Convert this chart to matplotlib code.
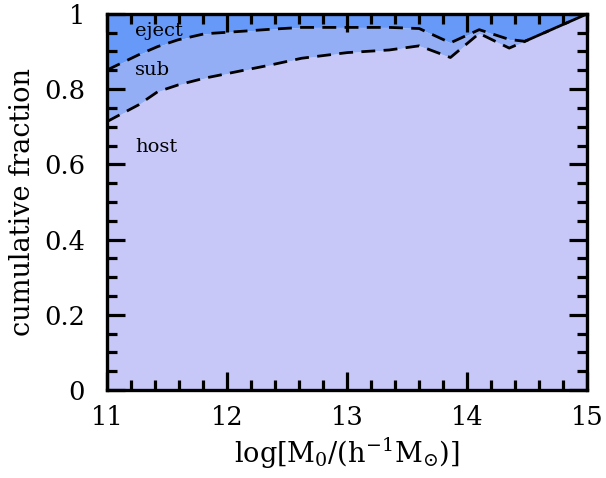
import numpy as np
import matplotlib
matplotlib.use("Agg")
import matplotlib.pyplot as plt
from matplotlib.ticker import MultipleLocator

plt.rcParams['font.family'] = 'DejaVu Serif'
plt.rcParams['mathtext.fontset'] = 'dejavuserif'

# cumulative fractions vs log halo mass
logm = [11.0, 11.26, 11.42, 11.59, 11.81, 12.09, 12.36, 12.62, 13.0, 13.35, 13.6, 13.86, 14.1, 14.35, 14.48, 15.0]
host = [0.714, 0.758, 0.793, 0.811, 0.829, 0.847, 0.864, 0.882, 0.897, 0.904, 0.915, 0.884, 0.948, 0.909, 0.927, 1.0]
host_sub = [0.851, 0.891, 0.913, 0.931, 0.947, 0.953, 0.959, 0.964, 0.964, 0.964, 0.961, 0.923, 0.958, 0.932, 0.927, 1.0]

c_host = '#c8c8f8'
c_sub = '#94aef6'
c_eject = '#6699f8'

fig = plt.figure(figsize=(6.06, 4.78), dpi=100)
ax = fig.add_axes([0.177, 0.184, 0.792, 0.787])

ax.fill_between(logm, 0, host, color=c_host, lw=0)
ax.fill_between(logm, host, host_sub, color=c_sub, lw=0)
ax.fill_between(logm, host_sub, 1, color=c_eject, lw=0)
ax.plot(logm, host, color='black', ls=(0, (5, 3)), lw=2.0)
ax.plot(logm, host_sub, color='black', ls=(0, (5, 3)), lw=2.0)

ax.text(11.23, 0.955, 'eject', fontsize=14, va='center')
ax.text(11.23, 0.851, 'sub', fontsize=14, va='center')
ax.text(11.23, 0.646, 'host', fontsize=14, va='center')

ax.set_xlim(11, 15)
ax.set_ylim(0, 1)
ax.xaxis.set_major_locator(MultipleLocator(1))
ax.xaxis.set_minor_locator(MultipleLocator(0.2))
ax.yaxis.set_major_locator(MultipleLocator(0.2))
ax.yaxis.set_minor_locator(MultipleLocator(0.05))
ax.set_yticks([0, 0.2, 0.4, 0.6, 0.8, 1])
ax.set_yticklabels(['0', '0.2', '0.4', '0.6', '0.8', '1'])
ax.tick_params(which='both', direction='in', top=True, right=True, width=2.3)
ax.tick_params(which='major', length=13)
ax.tick_params(which='minor', length=7)
ax.tick_params(axis='x', pad=11, labelsize=18.5)
ax.tick_params(axis='y', pad=16, labelsize=18.5)
for s in ax.spines.values():
    s.set_linewidth(2.4)

ax.set_xlabel(r'$\mathrm{log[M_0/(h^{-1}M_{\odot})]}$', fontsize=19.5, labelpad=4)
ax.set_ylabel('cumulative fraction', fontsize=19.5, labelpad=6)

fig.savefig('out.png', dpi=100)
